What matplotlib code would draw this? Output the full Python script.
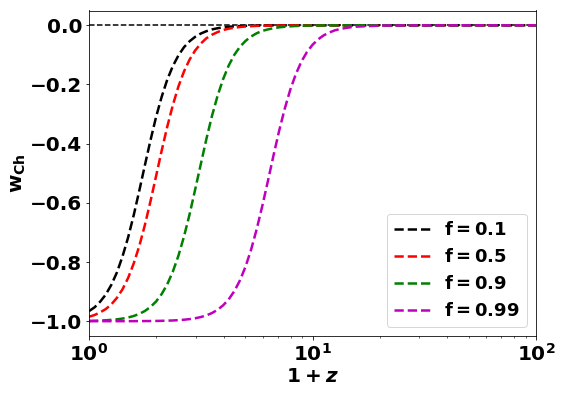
import matplotlib
matplotlib.use("Agg")
import matplotlib.pyplot as plt

# 1+z sampling grid (log-spaced)
one_plus_z = [1.0, 1.0593, 1.1220, 1.1885, 1.2589, 1.3335, 1.4125, 1.4962, 1.5849, 1.6788,
              1.7783, 1.8836, 1.9953, 2.1135, 2.2387, 2.3714, 2.5119, 2.6607, 2.8184, 2.9854,
              3.1623, 3.3497, 3.5481, 3.7584, 3.9811, 4.2170, 4.4668, 4.7315, 5.0119, 5.3088,
              5.6234, 5.9566, 6.3096, 6.6834, 7.0795, 7.4989, 7.9433, 8.4140, 8.9125, 9.4406,
              10.0, 10.593, 11.220, 11.885, 12.589, 13.335, 14.125, 14.962, 15.849,
              19.953, 25.119, 39.811, 100.0]

w_f01 = [-0.966, -0.953, -0.934, -0.910, -0.877, -0.835, -0.781, -0.717, -0.642, -0.559,
         -0.473, -0.389, -0.310, -0.242, -0.184, -0.138, -0.102, -0.074, -0.054, -0.039,
         -0.028, -0.020, -0.014, -0.010, -0.007, -0.005, -0.0036, -0.0025, -0.0018, -0.0013,
         -0.0009, -0.0006, -0.00045, -0.0003, -0.0002, -0.00015, -0.0001, 0.0, 0.0, 0.0,
         0.0, 0.0, 0.0, 0.0, 0.0, 0.0, 0.0, 0.0, 0.0,
         0.0, 0.0, 0.0, 0.0]

w_f05 = [-0.985, -0.979, -0.970, -0.959, -0.943, -0.921, -0.892, -0.854, -0.805, -0.746,
         -0.675, -0.595, -0.510, -0.424, -0.343, -0.270, -0.207, -0.156, -0.116, -0.085,
         -0.062, -0.044, -0.032, -0.023, -0.016, -0.0115, -0.008, -0.0058, -0.004, -0.0029,
         -0.002, -0.0014, -0.001, -0.0007, -0.0005, -0.0004, -0.0003, -0.0002, -0.0001, -0.0001,
         0.0, 0.0, 0.0, 0.0, 0.0, 0.0, 0.0, 0.0, 0.0,
         0.0, 0.0, 0.0, 0.0]

w_f09 = [-0.9989, -0.9984, -0.9978, -0.9968, -0.9955, -0.9937, -0.9911, -0.9875, -0.9824, -0.9753,
         -0.9655, -0.9519, -0.9335, -0.9084, -0.8755, -0.8326, -0.779, -0.714, -0.639, -0.555,
         -0.470, -0.385, -0.307, -0.239, -0.182, -0.136, -0.100, -0.073, -0.053, -0.038,
         -0.027, -0.019, -0.014, -0.0098, -0.007, -0.005, -0.0035, -0.0025, -0.0018, -0.0012,
         -0.0009, -0.0006, -0.0004, -0.0003, -0.0002, -0.00015, -0.0001, -0.0001, -0.00005,
         0.0, 0.0, 0.0, 0.0]

w_f099 = [-1.0, -1.0, -1.0, -0.9999, -0.9999, -0.9999, -0.9999, -0.9998, -0.9998, -0.9997,
          -0.9995, -0.9994, -0.9991, -0.9987, -0.9982, -0.9975, -0.9965, -0.9950, -0.9929, -0.9901,
          -0.9860, -0.9804, -0.9725, -0.9615, -0.9465, -0.9261, -0.8987, -0.8627, -0.8164, -0.7589,
          -0.690, -0.612, -0.528, -0.4415, -0.359, -0.284, -0.219, -0.166, -0.123, -0.0905,
          -0.066, -0.0475, -0.034, -0.0244, -0.017, -0.0124, -0.0088, -0.0062, -0.0044,
          -0.0011, -0.0003, 0.0, 0.0]

labels = [r"$\mathbf{f=0.1}$", r"$\mathbf{f=0.5}$", r"$\mathbf{f=0.9}$", r"$\mathbf{f=0.99}$"]
colors = ["k", "r", "g", "m"]

plt.rcParams["font.weight"] = "bold"
plt.rcParams["mathtext.fontset"] = "custom"
plt.rcParams["mathtext.rm"] = "DejaVu Sans:bold"
plt.rcParams["mathtext.bf"] = "DejaVu Sans:bold"
plt.rcParams["mathtext.it"] = "DejaVu Sans:italic:bold"

fig = plt.figure(figsize=(562 / 72, 395 / 72), dpi=72)
ax = fig.add_axes([89 / 562, 59 / 395, 447 / 562, 325.5 / 395])

ax.axhline(0.0, color="k", ls="--", lw=1.5)

for w, c, lab in zip([w_f01, w_f05, w_f09, w_f099], colors, labels):
    ax.plot(one_plus_z, w, ls="--", color=c, lw=2.5, label=lab)

ax.set_xscale("log")
ax.set_xlim(1, 100)
ax.set_ylim(-1.05, 0.05)
ax.set_yticks([-1.0, -0.8, -0.6, -0.4, -0.2, 0.0])

ax.tick_params(axis="both", which="major", labelsize=20)
for lbl in ax.get_yticklabels():
    lbl.set_fontweight("bold")

ax.set_xlabel(r"$1+z$", fontsize=20, labelpad=2)
ax.set_ylabel(r"$\mathbf{w_{Ch}}$", fontsize=20, labelpad=2)

ax.legend(loc="lower right", fontsize=18)

fig.savefig("out.png", dpi=72)
